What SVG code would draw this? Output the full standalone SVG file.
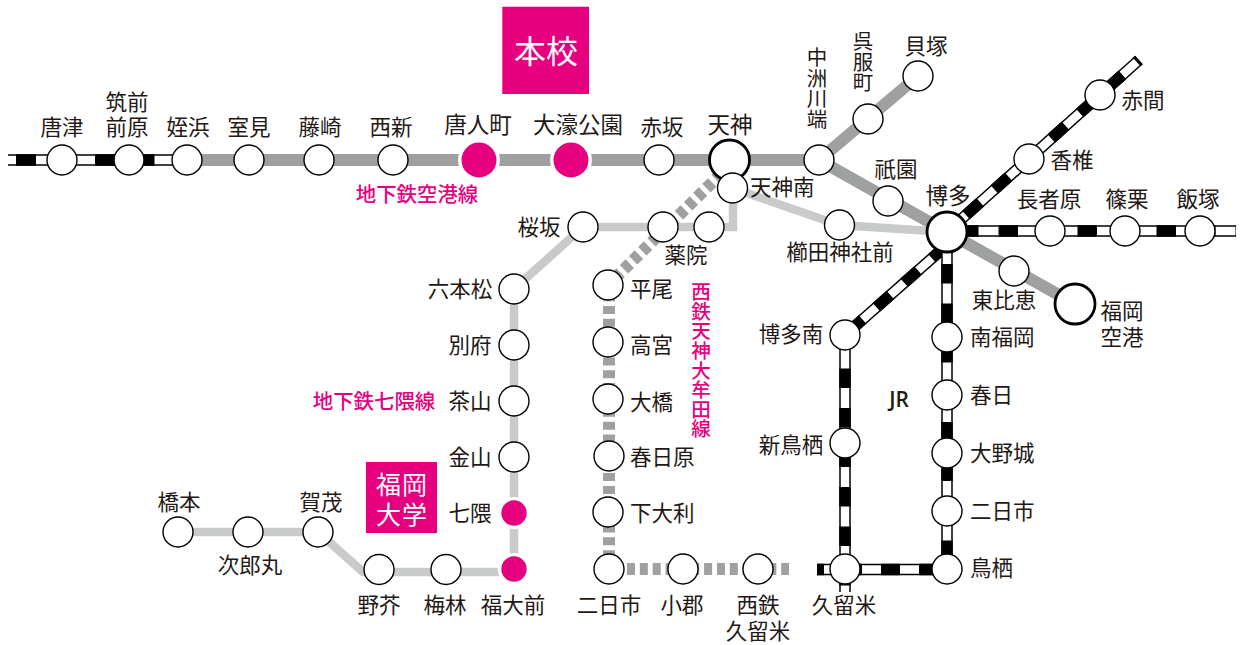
<svg xmlns="http://www.w3.org/2000/svg" width="1241" height="645" viewBox="0 0 1241 645">
<style>
text{font-family:"Noto Sans CJK JP","Noto Sans",sans-serif;font-size:21.5px;fill:#231815;text-anchor:middle}
.l{text-anchor:start}
.v{text-anchor:start;writing-mode:vertical-rl;font-size:20.5px}
.lg{font-size:22.5px}
.p{fill:#e6007f;font-size:20.4px;font-weight:500}
.pv{text-anchor:start;writing-mode:vertical-rl;font-size:19.6px}
.w{fill:#fff}
.fd{font-size:25px;letter-spacing:1px}
.n{fill:none;stroke-linejoin:miter}
.g{stroke:#9fa0a0;stroke-width:12}
.s{stroke:#c9caca;stroke-width:8.5}
.d{stroke:#9fa0a0;stroke-width:12;stroke-dasharray:8 4.85}
.ja{stroke:#000;stroke-width:11.5}
.jb{stroke:#fff;stroke-width:8.5}
.jc{stroke:#000;stroke-width:11.5}
circle{fill:#fff;stroke:#000;stroke-width:1.4}
.st circle{r:15px}
.pk circle{fill:#e6007f;stroke:#fff;stroke-width:3.4}
.big circle{stroke-width:2.8}
</style>
<defs>
<path id="j1" d="M8 160H187"/>
<path id="j2" d="M947 232L1139 60"/>
<path id="j3" d="M947 231H1236"/>
<path id="j4" d="M947 245L845 335"/>
<path id="j7" d="M845 335V592"/>
<path id="j5" d="M947 250V569"/>
<path id="j6" d="M817 569.5H947"/>
</defs>
<g id="connectors">
<path class="n g" d="M187 160H819L918 76M819 160L1075 304"/>
<path class="n s" d="M732 188L839 225L947 232M733 188V227H583L514 289V572H363L318 532H178"/>
<path class="n d" d="M730 165L608 285" stroke-dashoffset="-12.15"/>
<path class="n d" d="M609 285V569" stroke-dashoffset="-8.15"/>
<path class="n d" d="M609 569H789" stroke-dashoffset="-5.15"/>
<g class="n">
<use href="#j1" class="ja"/><use href="#j1" class="jb"/><use href="#j1" class="jc" stroke-dasharray="20 19.5" stroke-dashoffset="-8"/>
<use href="#j2" class="ja"/><use href="#j2" class="jb"/><use href="#j2" class="jc" stroke-dasharray="19 19.2" stroke-dashoffset="-25.5"/>
<use href="#j3" class="ja"/><use href="#j3" class="jb"/><use href="#j3" class="jc" stroke-dasharray="19.5 20" stroke-dashoffset="-12"/>
<use href="#j4" class="ja"/><use href="#j4" class="jb"/><use href="#j4" class="jc" stroke-dasharray="18.5 18.5" stroke-dashoffset="-1.6"/>
<use href="#j7" class="ja"/><use href="#j7" class="jb"/><use href="#j7" class="jc" stroke-dasharray="19.5 20" stroke-dashoffset="6"/>
<use href="#j5" class="ja"/><use href="#j5" class="jb"/><use href="#j5" class="jc" stroke-dasharray="19.5 20" stroke-dashoffset="-14"/>
<use href="#j6" class="ja"/><use href="#j6" class="jb"/><use href="#j6" class="jc" stroke-dasharray="19 19" stroke-dashoffset="12"/>
</g>
</g>
<g id="honko"><rect x="502.3" y="6.7" width="86.7" height="87.3" fill="#e6007f"/><text class="w" x="546" y="63" style="font-size:32px">本校</text></g>
<g id="fukudai"><rect x="366" y="462" width="71" height="71" fill="#e6007f"/><text class="w fd" x="402" y="494"><tspan x="402">福岡</tspan><tspan x="402" dy="30">大学</tspan></text></g>
<g id="line-labels">
<text class="p" x="417" y="202">地下鉄空港線</text>
<text class="p" x="374" y="409">地下鉄七隈線</text>
<text class="p pv" x="701" y="282">西鉄天神大牟田線</text>
<text x="899" y="407" style="font-size:21px;font-family:'Open Sans',sans-serif;font-weight:600">JR</text>
</g>
<g id="s-karatsu" class="st"><circle cx="62" cy="160"/><text x="62" y="135">唐津</text></g>
<g id="s-chikuzenmaebaru" class="st"><circle cx="129" cy="160"/><text x="127" y="110"><tspan x="127">筑前</tspan><tspan x="127" dy="25">前原</tspan></text></g>
<g id="s-meinohama" class="st"><circle cx="187" cy="160"/><text x="188" y="135">姪浜</text></g>
<g id="s-muromi" class="st"><circle cx="249" cy="160"/><text x="249" y="135">室見</text></g>
<g id="s-fujisaki" class="st"><circle cx="319" cy="160"/><text x="320" y="135">藤崎</text></g>
<g id="s-nishijin" class="st"><circle cx="393" cy="160"/><text x="391" y="135">西新</text></g>
<g id="s-tojinmachi" class="st pk"><circle cx="479" cy="160" style="r:19.2px"/><text class="lg" x="478" y="133">唐人町</text></g>
<g id="s-ohori" class="st pk"><circle cx="571" cy="160" style="r:19.2px"/><text class="lg" x="578" y="132.500">大濠公園</text></g>
<g id="s-akasaka" class="st"><circle cx="659" cy="160"/><text x="662" y="135">赤坂</text></g>
<g id="s-tenjin" class="big"><circle cx="729.5" cy="160" r="20"/><text class="lg" x="730" y="133">天神</text></g>
<g id="s-nakasu" class="st"><circle cx="819" cy="160"/><text class="v" x="817" y="47">中洲川端</text></g>
<g id="s-gofukumachi" class="st"><circle cx="868" cy="119"/><text class="v" x="863" y="31">呉服町</text></g>
<g id="s-kaizuka" class="st"><circle cx="918" cy="76"/><text x="926" y="54">貝塚</text></g>
<g id="s-gion" class="st"><circle cx="888" cy="201"/><text x="896" y="177">祇園</text></g>
<g id="s-hakata" class="big"><circle cx="947" cy="232" r="20"/><text class="lg" x="948" y="204">博多</text></g>
<g id="s-higashihie" class="st"><circle cx="1014" cy="271"/><text x="1004" y="308">東比恵</text></g>
<g id="s-airport" class="big"><circle cx="1075" cy="304" r="20"/><text x="1122" y="319"><tspan x="1122">福岡</tspan><tspan x="1122" dy="26">空港</tspan></text></g>
<g id="s-akama" class="st"><circle cx="1100" cy="95"/><text x="1143" y="108">赤間</text></g>
<g id="s-kashii" class="st"><circle cx="1029" cy="159"/><text x="1072" y="168">香椎</text></g>
<g id="s-chojabaru" class="st"><circle cx="1050" cy="231"/><text x="1049" y="207">長者原</text></g>
<g id="s-sasaguri" class="st"><circle cx="1125" cy="231"/><text x="1127" y="207">篠栗</text></g>
<g id="s-iizuka" class="st"><circle cx="1200" cy="231"/><text x="1198" y="207">飯塚</text></g>
<g id="s-minamifukuoka" class="st"><circle cx="947" cy="337"/><text class="l" x="970" y="345">南福岡</text></g>
<g id="s-kasuga" class="st"><circle cx="947" cy="395"/><text class="l" x="970" y="403">春日</text></g>
<g id="s-onojo" class="st"><circle cx="947" cy="453"/><text class="l" x="970" y="461">大野城</text></g>
<g id="s-futsukaichi" class="st"><circle cx="947" cy="511"/><text class="l" x="970" y="519">二日市</text></g>
<g id="s-tosu" class="st"><circle cx="947" cy="569"/><text class="l" x="970" y="576">鳥栖</text></g>
<g id="s-kurume" class="st"><circle cx="845" cy="569"/><text x="844" y="613">久留米</text></g>
<g id="s-shintosu" class="st"><circle cx="845" cy="443"/><text x="791" y="453">新鳥栖</text></g>
<g id="s-hakataminami" class="st"><circle cx="845" cy="335"/><text x="791" y="342">博多南</text></g>
<g id="s-tenjinminami" class="st"><circle cx="732.5" cy="188"/><text class="l" x="750" y="195">天神南</text></g>
<g id="s-kushida" class="st"><circle cx="839.5" cy="225"/><text x="840" y="260">櫛田神社前</text></g>
<g id="s-sakurazaka" class="st"><circle cx="583" cy="227"/><text x="539" y="235">桜坂</text></g>
<g id="s-yakuin-n" class="st"><circle cx="663" cy="227"/></g>
<g id="s-yakuin" class="st"><circle cx="709" cy="227"/><text x="686" y="263">薬院</text></g>
<g id="s-ropponmatsu" class="st"><circle cx="514" cy="289"/><text x="460" y="297">六本松</text></g>
<g id="s-befu" class="st"><circle cx="514" cy="345"/><text x="470" y="353">別府</text></g>
<g id="s-chayama" class="st"><circle cx="514" cy="401"/><text x="470" y="409">茶山</text></g>
<g id="s-kanayama" class="st"><circle cx="514" cy="457"/><text x="470" y="465">金山</text></g>
<g id="s-nanakuma" class="st pk"><circle cx="514" cy="513" style="r:14.4px"/><text x="470" y="521">七隈</text></g>
<g id="s-fukudaimae" class="st pk"><circle cx="514" cy="569" style="r:14.4px"/><text x="513" y="613">福大前</text></g>
<g id="s-umebayashi" class="st"><circle cx="446" cy="569.5"/><text x="445" y="613">梅林</text></g>
<g id="s-noke" class="st"><circle cx="379" cy="569.5"/><text x="379" y="613">野芥</text></g>
<g id="s-kamo" class="st"><circle cx="318" cy="532"/><text x="321" y="510">賀茂</text></g>
<g id="s-jiromaru" class="st"><circle cx="248" cy="532"/><text x="250" y="573">次郎丸</text></g>
<g id="s-hashimoto" class="st"><circle cx="178" cy="532"/><text x="179" y="510">橋本</text></g>
<g id="s-hirao" class="st"><circle cx="608" cy="285"/><text class="l" x="630" y="297">平尾</text></g>
<g id="s-takamiya" class="st"><circle cx="608" cy="342"/><text class="l" x="630" y="353">高宮</text></g>
<g id="s-ohashi" class="st"><circle cx="608" cy="399"/><text class="l" x="630" y="410">大橋</text></g>
<g id="s-kasugabaru" class="st"><circle cx="609" cy="456"/><text class="l" x="630" y="465">春日原</text></g>
<g id="s-shimoori" class="st"><circle cx="608" cy="512"/><text class="l" x="630" y="521">下大利</text></g>
<g id="s-nishifutsukaichi" class="st"><circle cx="609" cy="569"/><text x="609" y="613">二日市</text></g>
<g id="s-ogori" class="st"><circle cx="683" cy="569"/><text x="682" y="613">小郡</text></g>
<g id="s-nishikurume" class="st"><circle cx="758" cy="569"/><text x="758" y="613"><tspan x="758">西鉄</tspan><tspan x="758" dy="26">久留米</tspan></text></g>
</svg>
